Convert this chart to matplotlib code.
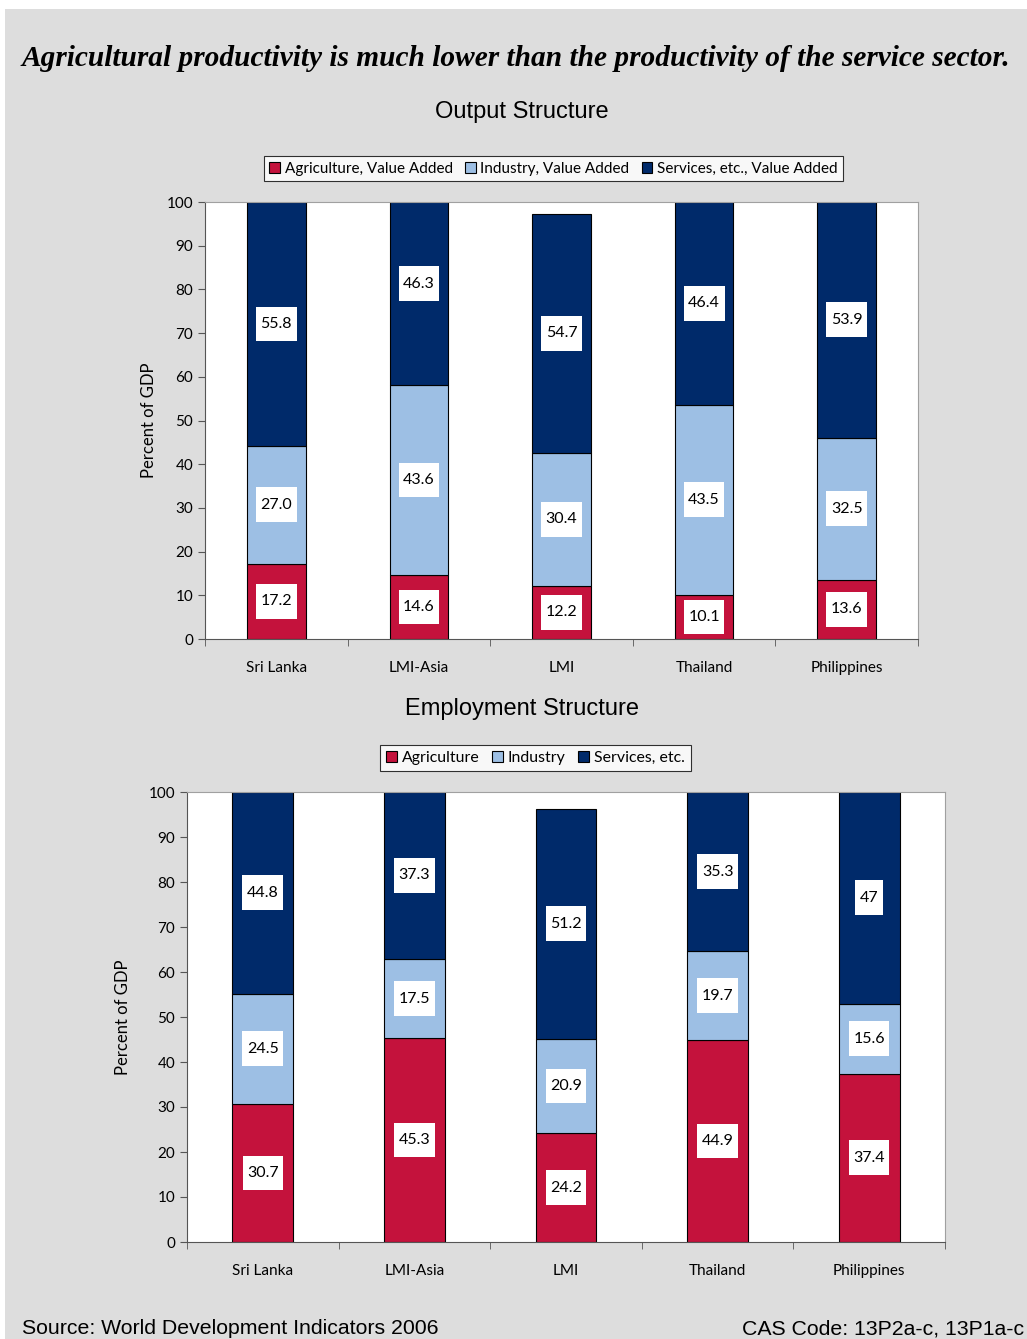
import matplotlib.pyplot as plt
import numpy as np
from matplotlib.patches import Rectangle, Patch
from matplotlib.path import Path

# categories and values (percent)
countries = ["Sri Lanka", "LMI-Asia", "LMI", "Thailand", "Philippines"]

out_agri = [17.2, 14.6, 12.2, 10.1, 13.6]
out_ind = [27.0, 43.6, 30.4, 43.5, 32.5]
out_serv = [55.8, 46.3, 54.7, 46.4, 53.9]
out_agri_lbl = ["17.2", "14.6", "12.2", "10.1", "13.6"]
out_ind_lbl = ["27.0", "43.6", "30.4", "43.5", "32.5"]
out_serv_lbl = ["55.8", "46.3", "54.7", "46.4", "53.9"]

emp_agri = [30.7, 45.3, 24.2, 44.9, 37.4]
emp_ind = [24.5, 17.5, 20.9, 19.7, 15.6]
emp_serv = [44.8, 37.3, 51.2, 35.3, 47]
emp_agri_lbl = ["30.7", "45.3", "24.2", "44.9", "37.4"]
emp_ind_lbl = ["24.5", "17.5", "20.9", "19.7", "15.6"]
emp_serv_lbl = ["44.8", "37.3", "51.2", "35.3", "47"]

out_legend = ["Agriculture, Value Added", "Industry, Value Added", "Services, etc., Value Added"]
emp_legend = ["Agriculture", "Industry", "Services, etc."]

RED = "#c4123c"
LBLUE = "#9dbfe4"
NAVY = "#002a6a"
BG = "#dddddd"
TICKFONT = "Lato"


def label_box(x0, y0, width, height, mutation_size):
    # white box, narrow at the sides and tall, like the excel data labels
    px = 0.28 * mutation_size
    py = 0.65 * mutation_size
    x0, y0 = x0 - px, y0 - py
    x1, y1 = x0 + width + 2 * px, y0 + height + 2 * py
    return Path([(x0, y0), (x1, y0), (x1, y1), (x0, y1), (x0, y0)], closed=True)


def stacked(ax, series, labels, width, ylab_x):
    x = np.arange(len(countries))
    bottom = np.zeros(len(countries))
    for vals, lbls, col in zip(series, labels, [RED, LBLUE, NAVY]):
        vals = np.array(vals, dtype=float)
        ax.bar(x, vals, width, bottom=bottom, color=col, edgecolor="black", linewidth=0.8)
        for xi, b, v, s in zip(x, bottom, vals, lbls):
            ax.text(xi, b + v / 2, s, ha="center", va="center", fontsize=11.5,
                    family=TICKFONT, color="black",
                    bbox=dict(boxstyle=label_box, fc="white", ec="none"))
        bottom += vals

    ax.set_xlim(-0.5, len(countries) - 0.5)
    ax.set_ylim(0, 100)
    ax.set_yticks(np.arange(0, 101, 10))
    ax.set_facecolor("white")
    ax.set_xticks(x)
    ax.set_xticklabels(countries, fontsize=11, family=TICKFONT)
    ax.set_xticks(np.arange(-0.5, len(countries), 1), minor=True)
    ax.tick_params(axis="x", which="major", length=0, pad=16)
    ax.tick_params(axis="x", which="minor", length=5, direction="out", color="#555555")
    ax.tick_params(axis="y", length=5, direction="out", color="#555555", labelsize=11)
    for t in ax.get_yticklabels():
        t.set_family(TICKFONT)
    ax.spines["top"].set_color("#a0a0a0")
    ax.spines["right"].set_color("#a0a0a0")
    ax.spines["left"].set_color("#555555")
    ax.spines["bottom"].set_color("#555555")
    ax.set_ylabel("Percent of GDP", fontsize=12, family=TICKFONT)
    ax.yaxis.set_label_coords(ylab_x, 0.5)


fig = plt.figure(figsize=(10.27, 13.39), dpi=100, facecolor=BG)
# white strip at top/left edge of the screenshot
fig.patches.append(Rectangle((0, 1 - 9 / 1339), 1, 9 / 1339, transform=fig.transFigure,
                             fc="white", ec="none", zorder=0))
fig.patches.append(Rectangle((0, 0), 5 / 1027, 1, transform=fig.transFigure,
                             fc="white", ec="none", zorder=0))

fig.text(0.502, 1 - 59 / 1339, "Agricultural productivity is much lower than the productivity of the service sector.",
         ha="center", va="center", fontsize=21.2, family="Liberation Serif",
         weight="bold", style="italic")
fig.text(0.508, 1 - 112 / 1339, "Output Structure", ha="center", va="center",
         fontsize=17, family="Liberation Sans")
fig.text(0.508, 1 - 709 / 1339, "Employment Structure", ha="center", va="center",
         fontsize=17, family="Liberation Sans")
fig.text(22 / 1027, 1 - 1329 / 1339, "Source: World Development Indicators 2006",
         ha="left", va="center", fontsize=15.3, family="Liberation Sans")
fig.text(742 / 1027, 1 - 1329 / 1339, "CAS Code: 13P2a-c, 13P1a-c",
         ha="left", va="center", fontsize=15.3, family="Liberation Sans")

ax1 = fig.add_axes([205 / 1027, 1 - 639 / 1339, 713 / 1027, 437 / 1339])
stacked(ax1, [out_agri, out_ind, out_serv], [out_agri_lbl, out_ind_lbl, out_serv_lbl], 0.41,
        (157 - 205) / 713)

ax2 = fig.add_axes([187 / 1027, 1 - 1242 / 1339, 758 / 1027, 450 / 1339])
stacked(ax2, [emp_agri, emp_ind, emp_serv], [emp_agri_lbl, emp_ind_lbl, emp_serv_lbl], 0.40,
        (131 - 187) / 758)


def legend(names, cx, cy, size):
    handles = [Patch(fc=c, ec="black", lw=0.8) for c in [RED, LBLUE, NAVY]]
    leg = fig.legend(handles, names, loc="center", bbox_to_anchor=(cx, cy), ncol=3,
                     frameon=True, fancybox=False, handlelength=0.7, handleheight=0.7,
                     handletextpad=0.3, columnspacing=0.8, borderpad=0.35,
                     prop={"family": TICKFONT, "size": size})
    leg.get_frame().set_edgecolor("black")
    leg.get_frame().set_linewidth(0.8)
    leg.get_frame().set_facecolor("white")


legend(out_legend, 553.5 / 1027, 1 - 168.5 / 1339, 11)
legend(emp_legend, 535.5 / 1027, 1 - 758 / 1339, 11.4)

fig.savefig("out.png", dpi=100, facecolor=BG)
